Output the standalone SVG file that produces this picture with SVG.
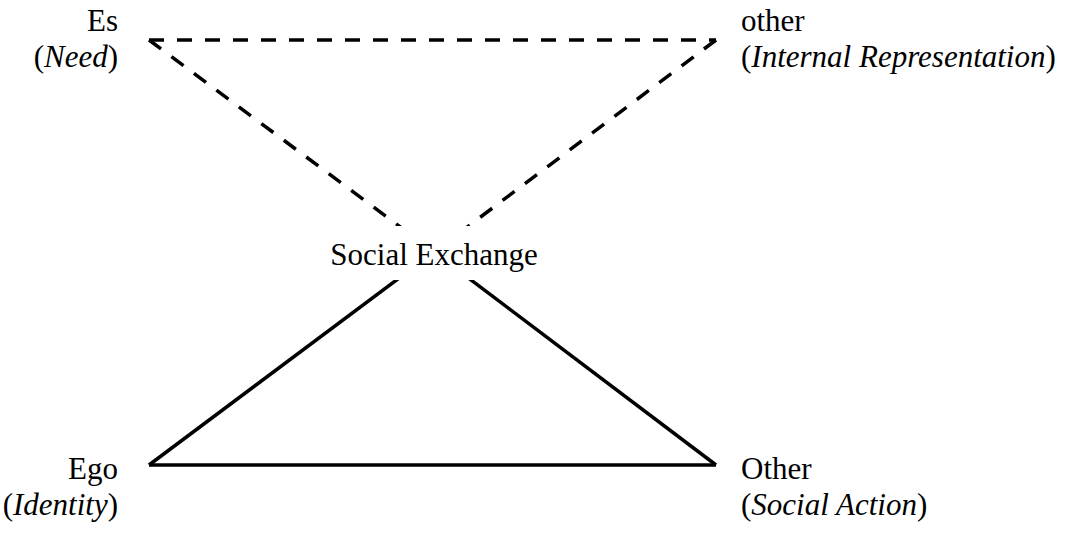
<svg xmlns="http://www.w3.org/2000/svg" width="1079" height="534" viewBox="0 0 1079 534">
<style>
.lbl{font-family:'Liberation Serif','Times New Roman',serif;font-size:31px;fill:#000}
.r{text-anchor:end}
.c{text-anchor:middle}
.dash{stroke:#000;stroke-width:3.5;fill:none;stroke-dasharray:15 13}
.solid{stroke:#000;stroke-width:3.5;fill:none}
</style>
<rect width="1079" height="534" fill="#fff"/>
<g id="connectors">
<line class="dash" x1="149" y1="40" x2="716" y2="40"/>
<line class="dash" x1="149" y1="40" x2="434" y2="252"/>
<line class="dash" x1="716" y1="40" x2="434" y2="252"/>
<line class="solid" x1="149" y1="465" x2="716" y2="465"/>
<line class="solid" x1="149" y1="465" x2="434" y2="252"/>
<line class="solid" x1="716" y1="465" x2="434" y2="252"/>
</g>
<g id="es" class="lbl">
<text class="r" x="118" y="31">Es</text>
<text class="r" x="118" y="67">(<tspan font-style="italic">Need</tspan>)</text>
</g>
<g id="other-internal" class="lbl">
<text x="741" y="31">other</text>
<text x="741" y="67">(<tspan font-style="italic">Internal Representation</tspan>)</text>
</g>
<g id="social-exchange" class="lbl">
<rect x="320" y="226" width="230" height="54" fill="#fff"/>
<text class="c" x="434" y="265">Social Exchange</text>
</g>
<g id="ego" class="lbl">
<text class="r" x="118" y="479">Ego</text>
<text class="r" x="118" y="515">(<tspan font-style="italic">Identity</tspan>)</text>
</g>
<g id="other-social" class="lbl">
<text x="741" y="479">Other</text>
<text x="741" y="515">(<tspan font-style="italic">Social Action</tspan>)</text>
</g>
</svg>
